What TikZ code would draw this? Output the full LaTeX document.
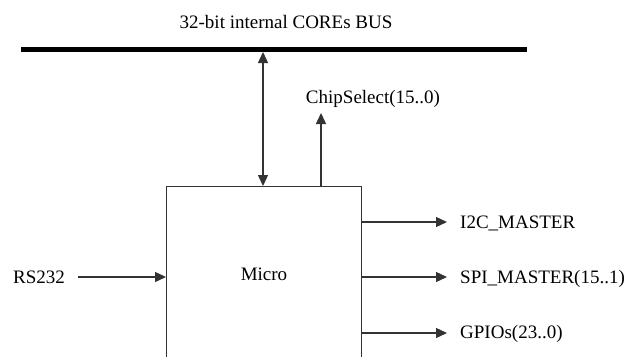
\documentclass[tikz,border=0pt]{standalone}
\usepackage{fontspec}
\setmainfont{Liberation Serif}
\usetikzlibrary{arrows.meta}
\begin{document}
\begin{tikzpicture}[x=1pt,y=-1pt,
  lbl/.style={inner sep=0pt,font=\fontsize{19}{23}\selectfont},
  conn/.style={line width=1.3pt,draw=black!80},
  tip/.style={-{Triangle[length=11pt,width=10pt]}},
  bustrack/.style={line width=5pt,draw=black},
  boxstyle/.style={draw=black!80,line width=1.3pt,minimum width=195pt,minimum height=214pt,inner sep=0pt}]
\useasboundingbox (0,0) rectangle (628,356);
% bus
\coordinate (busL) at (21,49.5);
\coordinate (busR) at (527,49.5);
\draw[bustrack] (busL) -- (busR);
\node[lbl,anchor=base] (title) at (286,28) {32-bit internal COREs BUS};
% micro box
\node[boxstyle,anchor=north west] (box) at (166,186) {};
\node[lbl,anchor=base] (microlbl) at (264,280) {Micro};
% bus link
\coordinate (busT) at (263,52);
\draw[conn,{Triangle[length=11pt,width=10pt]}-{Triangle[length=11pt,width=10pt]}] (busT) -- (busT |- box.north);
% chip select
\coordinate (csT) at (321,113);
\draw[conn,tip] (csT |- box.north) -- (csT);
\node[lbl,anchor=base] (cs) at (373,103) {ChipSelect(15..0)};
% RS232
\node[lbl,anchor=base west] (rs) at (13,283) {RS232};
\coordinate (rsS) at (78,277);
\draw[conn,tip] (rsS) -- (rsS -| box.west);
% outputs
\coordinate (i2cT) at (447,222);
\coordinate (spiT) at (447,277);
\coordinate (gpioT) at (447,333);
\draw[conn,tip] (i2cT -| box.east) -- (i2cT);
\draw[conn,tip] (spiT -| box.east) -- (spiT);
\draw[conn,tip] (gpioT -| box.east) -- (gpioT);
\node[lbl,anchor=base west] (i2c) at (460,228) {I2C\_MASTER};
\node[lbl,anchor=base west] (spi) at (460,283) {SPI\_MASTER(15..1)};
\node[lbl,anchor=base west] (gpio) at (460,338) {GPIOs(23..0)};
\end{tikzpicture}
\end{document}
